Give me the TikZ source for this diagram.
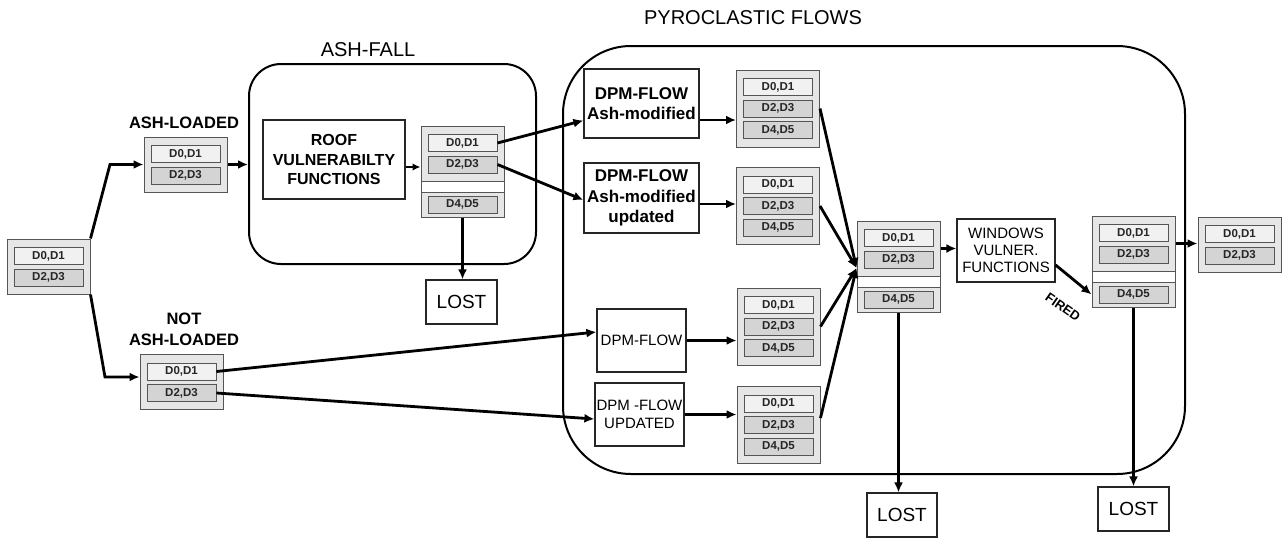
\documentclass[tikz,border=0pt]{standalone}
\usepackage{fontspec}
\setmainfont{Liberation Sans}
\usetikzlibrary{arrows.meta}

\definecolor{grpfill}{HTML}{E6E6E6}
\definecolor{lightcell}{HTML}{F1F1F1}
\definecolor{darkcell}{HTML}{D4D4D4}
\definecolor{edgegray}{HTML}{555555}

\newcommand{\setfs}[2]{\fontsize{#1}{#2}\selectfont}

% damage-state group with two cells
\newcommand{\grptwo}[3]{%
  \node[grp, minimum width=83, minimum height=55] (#1) at (#2,#3) {};
  \node[lcell] (#1-a) at (#2,#3-10.5) {D0,D1};
  \node[dcell] (#1-b) at (#2,#3+11) {D2,D3};}

% damage-state group with three cells
\newcommand{\grpthree}[3]{%
  \node[grp, minimum width=83, minimum height=77] (#1) at (#2,#3) {};
  \node[lcell] (#1-a) at (#2,#3-21.5) {D0,D1};
  \node[dcell] (#1-b) at (#2,#3) {D2,D3};
  \node[dcell] (#1-c) at (#2,#3+21.5) {D4,D5};}

% split group: two cells on top, a blank band, D4,D5 below
\newcommand{\grpsplit}[3]{%
  \node[grp, minimum width=83, minimum height=55] (#1) at (#2,#3+27.5) {};
  \node[band, minimum width=83, minimum height=11] (#1-m) at (#2,#3+60.5) {};
  \node[grp, minimum width=83, minimum height=25] (#1-l) at (#2,#3+78.5) {};
  \node[lcell] (#1-a) at (#2,#3+17) {D0,D1};
  \node[dcell] (#1-b) at (#2,#3+38.5) {D2,D3};
  \node[dcell] (#1-c) at (#2,#3+78.5) {D4,D5};}

\tikzset{
  grp/.style={draw=edgegray, fill=grpfill, line width=1pt, inner sep=0pt},
  band/.style={draw=edgegray, fill=white, line width=1pt, inner sep=0pt},
  cellbase/.style={draw=edgegray, line width=0.9pt, minimum width=69, minimum height=17,
    inner sep=0pt, text=black!85, font=\bfseries\setfs{11.5}{12}},
  lcell/.style={cellbase, fill=lightcell},
  dcell/.style={cellbase, fill=darkcell},
  box/.style={draw=black!85, line width=1.2pt, fill=white, align=center, inner sep=0pt, text=black},
  container/.style={draw=black, line width=2pt, inner sep=0pt},
  title/.style={font=\setfs{20}{20}, text=black},
  lbl/.style={font=\bfseries\setfs{16.5}{21}, align=center, text=black},
  arr/.style={line width=2.8pt, -{Latex[length=10pt,width=9pt]}},
  arrthin/.style={line width=2pt, -{Latex[length=8pt,width=7.5pt]}}
}

\begin{document}
\begin{tikzpicture}[x=1pt,y=-1pt]
\useasboundingbox (0,0) rectangle (1283,538);

% hazard containers
\node[container, minimum width=287, minimum height=200, rounded corners=32pt] (AF) at (392.5,164) {};
\node[container, minimum width=622, minimum height=428, rounded corners=68pt] (PF) at (874,260) {};
\node[title] (AFt) at (368,50) {ASH-FALL};
\node[title] (PFt) at (753,18) {PYROCLASTIC FLOWS};

% damage-state groups
\grptwo{L}{48.5}{266.5}
\grptwo{AL}{185.5}{164.5}
\grptwo{NA}{181.5}{382}
\grpsplit{RO}{462.5}{126}
\grpthree{G1}{778}{108.5}
\grpthree{G2}{778}{206}
\grpthree{G3}{778.5}{326.5}
\grpthree{G4}{778.5}{425}
\grpsplit{CV}{898.5}{221}
\grpsplit{FN}{1133.5}{216}
\grptwo{LAST}{1239.5}{244.5}

\node[lbl] (ALt) at (184,123) {ASH-LOADED};
\node[lbl] (NAt) at (184,329) {NOT\\ASH-LOADED};

% function boxes
\node[box, minimum width=142, minimum height=79, font=\bfseries\setfs{16}{19.5}] (ROOF) at (334,159.5) {ROOF\\VULNERABILTY\\FUNCTIONS};
\node[box, minimum width=115, minimum height=69, font=\bfseries\setfs{17}{20}] (D1) at (641.5,103.5) {DPM-FLOW\\Ash-modified};
\node[box, minimum width=115, minimum height=70, font=\bfseries\setfs{17}{20.5}] (D2) at (641.5,198) {DPM-FLOW\\Ash-modified\\updated};
\node[box, minimum width=89, minimum height=63, font=\setfs{15}{18}] (D3) at (641.5,340.5) {DPM-FLOW};
\node[box, minimum width=89, minimum height=63, font=\setfs{15}{18}] (D4) at (639.5,414.5) {DPM -FLOW\\UPDATED};
\node[box, minimum width=98, minimum height=63, font=\setfs{15}{17}] (WIN) at (1006,250.5) {WINDOWS\\VULNER.\\FUNCTIONS};
\node[box, minimum width=71, minimum height=44, font=\setfs{19}{22}] (LOST1) at (461.5,302) {LOST};
\node[box, minimum width=70, minimum height=44, font=\setfs{19}{22}] (LOST2) at (902,515) {LOST};
\node[box, minimum width=71, minimum height=44, font=\setfs{19}{22}] (LOST3) at (1133.5,509) {LOST};

% initial split
\coordinate (k1) at (110,164.5);
\coordinate (k2) at (105,377);
\draw[arr] (L.north east) -- (k1) -- (AL.west);
\draw[arr] (L.south east) -- (k2) -- (k2 -| NA.west);

% ash-fall branch
\draw[arr] (AL.east) -- (AL.east -| AF.west);
\coordinate (r1) at ([yshift=-7.5pt]ROOF.east);
\draw[arrthin] (r1) -- (r1 -| RO.west);
\draw[arr] (RO-a.east) -- ([yshift=-17pt]D1.west);
\draw[arr] (RO-b.east) -- ([yshift=-2pt]D2.west);
\draw[arr] (RO-l.south) -- (RO-l.south |- LOST1.north);

% not ash-loaded branch
\draw[arr] (NA-a.east) -- ([yshift=8.5pt]D3.west);
\draw[arr] (NA-b.east) -- ([yshift=-4.5pt]D4.west);

% flow model outputs
\coordinate (d1) at ([yshift=-16.5pt]D1.east);
\coordinate (d2) at ([yshift=-6pt]D2.east);
\draw[arr] (d1) -- (d1 -| G1.west);
\draw[arr] (d2) -- (d2 -| G2.west);
\draw[arr] (D3.east) -- (D3.east -| G3.west);
\draw[arr] (D4.east) -- (D4.east -| G4.west);

% merging into the combined state
\coordinate (cp) at ([yshift=-19.5pt]CV.west);
\draw[arr] (G1.east) -- (cp);
\draw[arr] (G2.east) -- (cp);
\draw[arr] (G3.east) -- (cp);
\draw[arr] ([yshift=7pt]G4.east) -- (cp);
\draw[arr] (CV-l.south) -- (CV-l.south |- LOST2.north);

% windows vulnerability and fire
\draw[arr] (CV.east) -- (CV.east -| WIN.west);
\draw[arr] ([yshift=-14.5pt]WIN.east) -- (FN-l.west);
\node[font=\bfseries\setfs{13}{13}, rotate=-35, inner sep=1pt] (fired) at (1063,307) {FIRED};
\draw[arr] (FN.east) -- (FN.east -| LAST.west);
\draw[arr] (FN-l.south) -- (FN-l.south |- LOST3.north);
\end{tikzpicture}
\end{document}
